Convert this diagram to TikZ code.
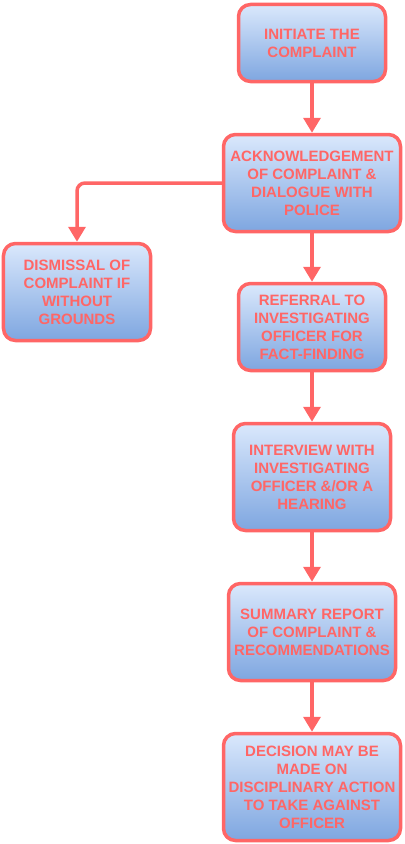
\documentclass[tikz,border=0pt]{standalone}
\usepackage{fontspec}
\setmainfont{Liberation Sans}
\usetikzlibrary{arrows.meta}
\definecolor{redline}{HTML}{FF6666}
\definecolor{topblue}{HTML}{DAE8FC}
\definecolor{botblue}{HTML}{7EA6E0}
\begin{document}
\begin{tikzpicture}[x=1bp,y=-1bp,
  box/.style={draw=redline, line width=3.5bp, rounded corners=12bp,
    top color=topblue, bottom color=botblue, text=redline,
    font=\fontsize{15bp}{18bp}\selectfont\bfseries, align=center, inner sep=0pt},
  conn/.style={draw=redline, line width=3.5bp, -{Triangle[length=15bp,width=17bp]}}]
\useasboundingbox (0,0) rectangle (404,844);
\node[box, minimum width=147bp, minimum height=77bp] (init) at (312,43) {INITIATE THE\\COMPLAINT};
\node[box, minimum width=177bp, minimum height=97bp] (ack) at (312,183) {ACKNOWLEDGEMENT\\OF COMPLAINT \&\\DIALOGUE WITH\\POLICE};
\node[box, minimum width=147bp, minimum height=97bp] (dism) at (77,292) {DISMISSAL OF\\COMPLAINT IF\\WITHOUT\\GROUNDS};
\node[box, minimum width=147bp, minimum height=87bp] (ref) at (312,327) {REFERRAL TO\\INVESTIGATING\\OFFICER FOR\\FACT-FINDING};
\node[box, minimum width=157bp, minimum height=107bp] (int) at (312,477) {INTERVIEW WITH\\INVESTIGATING\\OFFICER \&/OR A\\HEARING};
\node[box, minimum width=167bp, minimum height=97bp] (sum) at (312,632) {SUMMARY REPORT\\OF COMPLAINT \&\\RECOMMENDATIONS};
\node[box, minimum width=177bp, minimum height=107bp] (dec) at (312,787) {DECISION MAY BE\\MADE ON\\DISCIPLINARY ACTION\\TO TAKE AGAINST\\OFFICER};
\draw[conn] (init.south) -- (ack.north);
\draw[conn] (ack.south) -- (ref.north);
\draw[conn] (ref.south) -- (int.north);
\draw[conn] (int.south) -- (sum.north);
\draw[conn] (sum.south) -- (dec.north);
\draw[conn, rounded corners=8bp] (ack.west) -| (dism.north);
\end{tikzpicture}
\end{document}
